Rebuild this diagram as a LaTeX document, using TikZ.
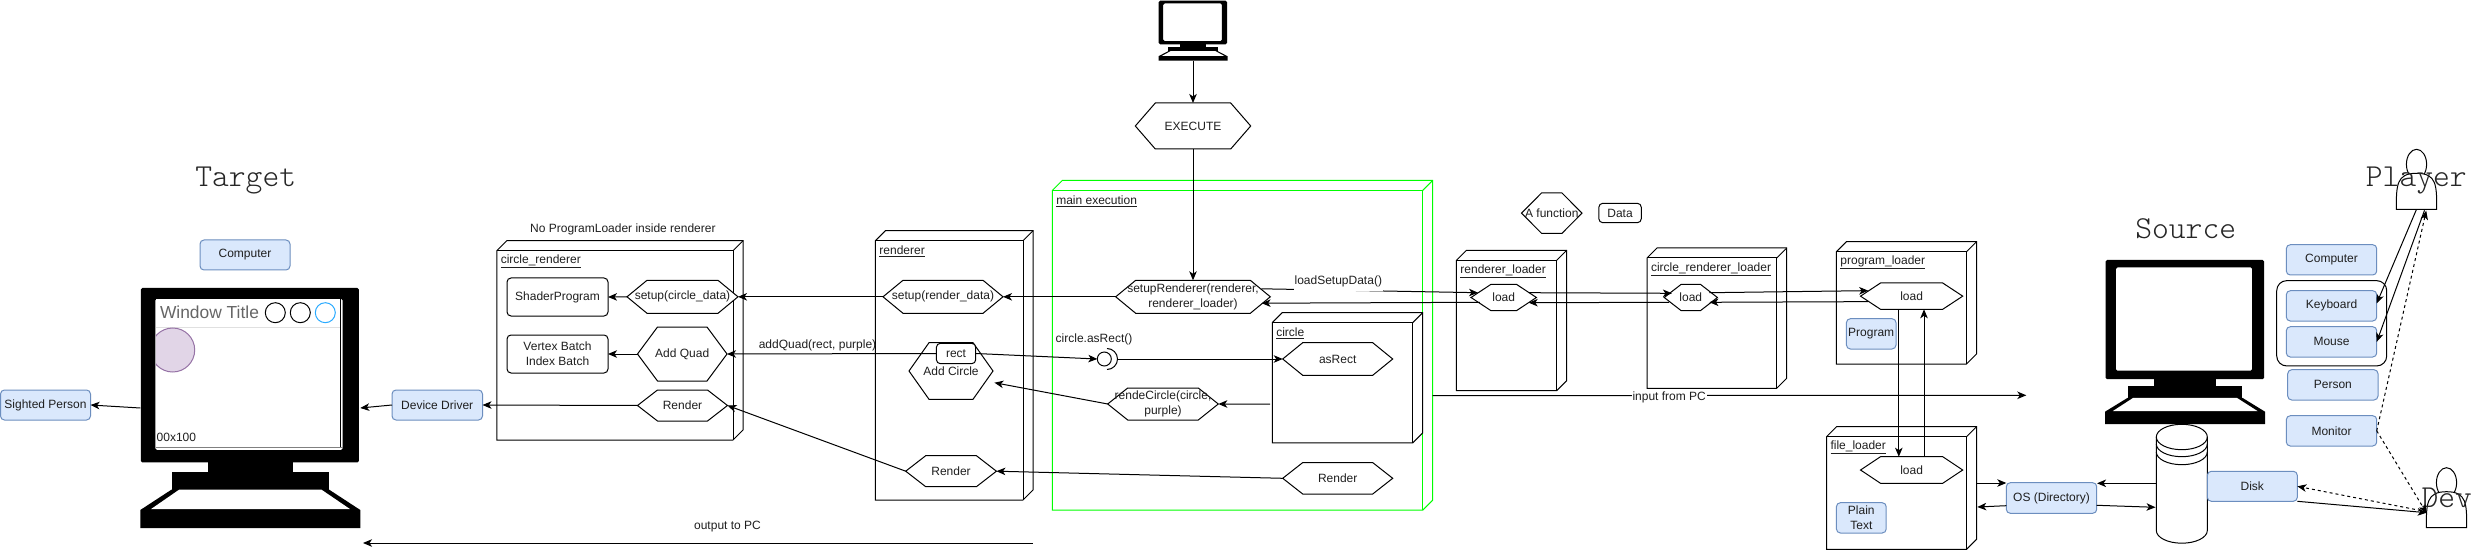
\documentclass[tikz,border=0pt]{standalone}
\usepackage{fontspec}
\setmainfont{Liberation Sans}
\newfontfamily\lightmono{Latin Modern Mono Light}
\usetikzlibrary{arrows.meta}
\definecolor{bfill}{HTML}{DAE8FC}
\definecolor{bline}{HTML}{6C8EBF}
\definecolor{pfill}{HTML}{E1D5E7}
\definecolor{pline}{HTML}{9673A6}
\definecolor{mainc}{HTML}{00FF00}
\definecolor{wtitle}{HTML}{666666}
\definecolor{wblue}{HTML}{29AAFF}
\tikzset{
  every node/.style={font=\fontsize{12}{14.6}\selectfont,inner sep=0pt,outer sep=0pt,align=center,text=black!88},
  lin/.style={draw=black,line width=1pt},
  arr/.style={draw=black,line width=1pt,-{Stealth[length=9pt,width=7.5pt,inset=2.5pt]}},
  darr/.style={arr,dash pattern=on 3pt off 3pt},
  hexs/.style={draw=black,line width=1pt,fill=white},
  whitebox/.style={draw=black,line width=1pt,fill=white,rounded corners=4pt},
  bluebox/.style={draw=bline,line width=1pt,fill=bfill,rounded corners=4pt},
  cubes/.style={draw=black,line width=1pt,fill=white},
  bigtext/.style={font=\lightmono\fontsize{32}{36}\selectfont,text=black!85},
  lbl/.style={anchor=west},
}
\newcommand{\hexn}[7][20]{%
  \draw[hexs] (#3+#1,#4) -- (#5-#1,#4) -- (#5,{(#4+#6)/2}) -- (#5-#1,#6) -- (#3+#1,#6) -- (#3,{(#4+#6)/2}) -- cycle;
  \node[minimum width={#5-#3},minimum height={#6-#4}] (#2) at ({(#3+#5)/2},{(#4+#6)/2}) {#7};}
\newcommand{\boxn}[7][whitebox]{%
  \node[#1,minimum width={#5-#3},minimum height={#6-#4}] (#2) at ({(#3+#5)/2},{(#4+#6)/2}) {#7};}
\newcommand{\cuben}[7][cubes]{%
  \draw[cubes,#1] (#3,#4) -- (#3+10,#4-10) -- (#5+10,#4-10) -- (#5+10,#6-10) -- (#5,#6) -- (#3,#6) -- cycle;
  \draw[cubes,#1,fill=none] (#3,#4) -- (#5,#4) -- (#5,#6);
  \draw[cubes,#1,fill=none] (#5,#4) -- (#5+10,#4-10);
  \node[minimum width={#5-#3},minimum height={#6-#4}] (#2) at ({(#3+#5)/2},{(#4+#6)/2}) {};
  \node[lbl] (#2lab) at (#3+4,#4+11) {\underline{#7}};}
\newcommand{\monitorn}[5]{%
  \begin{scope}[shift={(#2,#3)},x=#4pt,y=-#5pt]
    \fill[black,even odd rule,rounded corners=1.5pt] (.003,0) rectangle (.994,.727) (.068,.045) rectangle (.92,.675);
    \fill[black] (.306,.72) rectangle (.694,.77);
    \fill[black] (.142,.766) rectangle (.858,.845);
    \fill[black] (0,.925) -- (.142,.84) -- (.858,.84) -- (1,.925) -- (1,1) -- (0,1) -- cycle;
    \fill[white] (.177,.84) -- (.823,.84) -- (.953,.921) -- (.049,.921) -- cycle;
  \end{scope}
  \node[minimum width=#4pt,minimum height=#5pt] (#1) at ({#2+#4/2},{#3+#5/2}) {};}
\newcommand{\actorn}[5]{% name x1 y1 x2 y2
  \draw[cubes] ({(#2+#4)/2},{#3+15}) ellipse [x radius={(#4-#2)/4},y radius=15];
  \draw[cubes] (#2,#5) .. controls (#2,{#3+36}) and (#2,{#3+24}) .. ({(#2+#4)/2},{#3+24}) .. controls (#4,{#3+24}) and (#4,{#3+36}) .. (#4,#5) -- cycle;
  \node[minimum width={#4-#2},minimum height={#5-#3}] (#1) at ({(#2+#4)/2},{(#3+#5)/2}) {};}
\begin{document}
\begin{tikzpicture}[x=1pt,y=-1pt]
\useasboundingbox (0,0) rectangle (2473,553);
\fill[white] (0,0) rectangle (2473,553);

% --- target computer
\node[bigtext] (target) at (245.7,180.5) {Target};
\boxn[bluebox]{tcomputer}{200}{240}{290}{270}{Computer}
\boxn[bluebox]{sighted}{0.5}{390}{90.5}{420}{Sighted Person}
\boxn[bluebox]{driver}{392}{390}{482.5}{420}{Device Driver}
\monitorn{bigmon}{140.3}{288}{220}{240}
\fill[white] (155.5,299) rectangle (340.3,447.7);
\draw[black,line width=1pt] (340.3,299) -- (340.3,447.7);
\draw[black!50,line width=1.5pt] (155.5,447.7) -- (342.5,447.7);
\draw[black!12,line width=1.5pt] (155.5,327.7) -- (340.3,327.7);
\begin{scope}
  \clip (155.8,320) rectangle (200,380);
  \draw[fill=pfill,draw=pline,line width=1pt] (172.7,350) circle (22);
\end{scope}
\node[anchor=base west,text=wtitle,font=\fontsize{17.4}{20}\selectfont] (wtitlen) at (160,319) {Window Title};
\node[draw=black,line width=1pt,circle,minimum size=20pt] (wc1) at (275.3,312.7) {};
\node[draw=black,line width=1pt,circle,minimum size=20pt] (wc2) at (300.3,312.7) {};
\node[draw=wblue,line width=1pt,circle,minimum size=20pt] (wc3) at (325.3,312.7) {};
\node[anchor=base west] (wsize) at (156.7,441.7) {00x100};

% --- circle renderer
\node (noloader) at (622.9,229.7) {No ProgramLoader inside renderer};
\cuben{crenderer}{496.8}{250.7}{733}{440}{circle\_renderer}
\boxn{shader}{507}{278}{608}{316}{ShaderProgram}
\boxn{vertex}{507}{335}{608}{373}{Vertex Batch\\Index Batch}
\hexn{setupC}{627}{280.3}{738}{313.3}{setup(circle\_data)}
\hexn{addquad}{637.5}{327}{727}{381}{Add Quad}
\hexn{crender}{637.5}{390}{727.5}{421}{Render}

% --- renderer
\cuben{renderer}{875.4}{240.7}{1023}{500}{renderer}
\hexn{setupR}{883}{280.3}{1003}{313.3}{setup(render\_data)}
\hexn{addcircle}{909}{342.7}{993}{399.3}{Add Circle}
\boxn{rect}{936.4}{343.3}{975.7}{363.7}{rect}
\hexn{rrender}{905.7}{455.7}{996.4}{486.7}{Render}
\node (addquadlab) at (817.5,345) {addQuad(rect, purple)};

% --- main execution
\monitorn{smon}{1158.5}{0.7}{69}{60}
\hexn{execute}{1135.3}{103}{1250.7}{149}{EXECUTE}
\cuben[draw=mainc]{mainex}{1052.3}{190.4}{1422.7}{510.2}{main execution}
\hexn{setuprend}{1115.7}{280.3}{1270.3}{313.3}{setupRenderer(renderer,\\renderer\_loader)}
\cuben{circlebox}{1272.3}{322.6}{1412.7}{442.9}{circle}
\hexn{asrect}{1282.7}{342.7}{1392.7}{375.3}{asRect}
\hexn{mrender}{1282.7}{462.6}{1392.7}{494}{Render}
\hexn{rende}{1107.7}{388}{1218.3}{420}{rendeCircle(circle,\\purple)}
\node[anchor=west] (asrectlab) at (1055.7,339) {circle.asRect()};
\node[draw=black,line width=1pt,circle,minimum size=14pt] (iface) at (1104.3,359) {};
\draw[lin] (1107,348.5) arc [start angle=90,end angle=-90,radius=10.5pt];

% --- legend
\hexn{legfunc}{1521.5}{193}{1582}{233.3}{A function}
\boxn{legdata}{1598.8}{203.3}{1641.3}{222.7}{Data}

% --- loaders
\cuben{rloader}{1456.4}{260.3}{1556.7}{390.7}{renderer\_loader}
\hexn{load1}{1471}{284.3}{1536.4}{310.7}{load}
\cuben{crloader}{1647}{258}{1776.7}{388.3}{circle\_renderer\_loader}
\hexn[17]{load2}{1664.2}{284.3}{1717.4}{310.7}{load}
\cuben{ploader}{1836.4}{251.7}{1966.5}{364}{program\_loader}
\hexn{load3}{1860.5}{283}{1962.7}{309.3}{load}
\boxn[bluebox]{program}{1846.4}{318.7}{1896}{349}{Program}
\cuben{floader}{1826.5}{436.7}{1966.5}{549.3}{file\_loader}
\hexn{load4}{1860.5}{456.7}{1962.7}{483.3}{load}
\boxn[bluebox]{plaintext}{1836.4}{502.7}{1886.2}{533}{Plain\\Text}

% --- source computer
\node[bigtext] (source) at (2185.7,229) {Source};
\monitorn{srcmon}{2105}{260}{160}{164}
\boxn[bluebox]{os}{2006.3}{482.7}{2096.7}{513.3}{OS (Directory)}
% cylinder
\draw[cubes] (2156.3,437) arc [start angle=180,end angle=0,x radius=25.5pt,y radius=12.7pt] -- (2207.3,530.5) arc [start angle=0,end angle=-180,x radius=25.5pt,y radius=12.7pt] -- cycle;
\draw[lin] (2156.3,437) arc [start angle=180,end angle=360,x radius=25.5pt,y radius=12.7pt];
\draw[lin] (2156.3,444) arc [start angle=180,end angle=360,x radius=25.5pt,y radius=12.7pt];
\draw[lin] (2156.3,452) arc [start angle=180,end angle=360,x radius=25.5pt,y radius=12.7pt];
\node[minimum width=51pt,minimum height=119pt] (cyl) at (2181.8,483.8) {};
\boxn[bluebox]{disk}{2207.3}{471.3}{2297.3}{501.3}{Disk}
\boxn[bluebox]{scomputer}{2286.3}{244.7}{2376.7}{275}{Computer}
\node[draw=black,line width=1pt,rounded corners=10pt,minimum width=110pt,minimum height=85.3pt] (inputs) at (2331.7,323.3) {};
\boxn[bluebox]{keyboard}{2286.3}{290.7}{2376.7}{321}{Keyboard}
\boxn[bluebox]{mouse}{2286.3}{326.7}{2376.7}{357}{Mouse}
\boxn[bluebox]{person}{2287.7}{369.7}{2378}{400}{Person}
\boxn[bluebox]{monitorb}{2286.3}{415.7}{2376.7}{446}{Monitor}
\actorn{player}{2396.3}{149.3}{2436.7}{209.3}
\actorn{dev}{2426.3}{467.7}{2466.7}{527.7}
\node[bigtext] (playerlab) at (2416.3,180.5) {Player};
\node[bigtext] (devlab) at (2446.7,498) {Dev};

% --- free ends
\coordinate (outstart) at (1032.5,543);
\coordinate (outend) at (363,543);
\coordinate (inend) at (2026.3,395.3);

% --- connectors
\draw[arr] (bigmon.west) -- (sighted.east);
\draw[arr] (driver.west) -- (bigmon.east);
\draw[arr] (crender.west) -- (driver.east);
\draw[arr] (setupC.west) -- (shader.east);
\draw[arr] (addquad.west) -- (vertex.east);
\draw[arr] (setupR.west) -- (setupC.east);
\draw[arr] (rect.west) -- (addquad.east);
\draw[arr] (rect.east) -- (iface.west);
\draw[arr] ([xshift=6.7pt]iface.east) -- (asrect.west);
\draw[arr] ([shift={(-2.3pt,-21.3pt)}]circlebox.west) -- (rende.east);
\draw[arr] (rende.west) -- ([shift={(1.4pt,-11.7pt)}]addcircle.east);
\draw[arr] (mrender.west) -- (rrender.east);
\draw[arr] (rrender.west) -- (crender.east);
\draw[arr] (setuprend.west) -- (setupR.east);
\draw[arr] (smon.south) -- (execute.north);
\draw[arr] (execute.south) -- (setuprend.north);
\draw[arr] (outstart) -- (outend);
\draw[arr] ([shift={(-9pt,8pt)}]setuprend.east) -- ([shift={(7pt,4.8pt)}]load1.west);
\node[fill=white,minimum height=20pt,inner xsep=1pt] (loadsetup) at (1338.3,281.4) {loadSetupData()};
\draw[arr] ([shift={(-7.7pt,4.8pt)}]load1.east) -- ([shift={(7.7pt,4.2pt)}]load2.west);
\draw[arr] ([shift={(-8pt,4.8pt)}]load2.east) -- ([shift={(7.7pt,5.5pt)}]load3.west);
\draw[arr] ([shift={(7.5pt,-5.5pt)}]load3.west) -- ([shift={(-8pt,-4.8pt)}]load2.east);
\draw[arr] ([shift={(5pt,-4.8pt)}]load2.west) -- ([shift={(-7.7pt,-5.2pt)}]load1.east);
\draw[arr] ([shift={(8.8pt,-4.8pt)}]load1.west) -- ([shift={(-8.7pt,-6.4pt)}]setuprend.east);
\draw[arr] ([xshift=-12.8pt]load3.south) -- ([xshift=-12.8pt]load4.north);
\draw[arr] ([xshift=12.4pt]load4.north) -- ([xshift=12.4pt]load3.south);
\draw[arr] ([shift={(10pt,-45.3pt)}]mainex.east) -- (inend);
\node[fill=white,inner xsep=1pt] (inputlab) at (1669.2,397.7) {input from PC};
\node (outputlab) at (727.5,526.7) {output to PC};
\draw[arr] ([shift={(10pt,10pt)}]floader.east) -- ([yshift=15pt]os.west);
\draw[arr] ([yshift=-7.7pt]os.west) -- ([shift={(10.8pt,-14pt)}]floader.east);
\draw[arr] ([yshift=0.5pt]cyl.west) -- ([shift={(0.3pt,14.7pt)}]os.east);
\draw[arr] ([yshift=-7.3pt]os.east) -- ([shift={(-0.8pt,-23.5pt)}]cyl.west);
\draw[arr] (disk.south east) -- ([shift={(0.4pt,-15pt)}]dev.west);
\draw[darr] ([shift={(0.4pt,-14pt)}]dev.west) -- (disk.east);
\draw[darr] (monitorb.east) -- ([shift={(0.4pt,-15.6pt)}]dev.west);
\draw[darr] (monitorb.east) -- ([shift={(9.7pt,-1.4pt)}]player.south);
\draw[arr] (player.south) -- ([yshift=2.5pt]keyboard.east);
\draw[arr] ([shift={(8pt,-1pt)}]player.south) -- (mouse.east);
\end{tikzpicture}
\end{document}
